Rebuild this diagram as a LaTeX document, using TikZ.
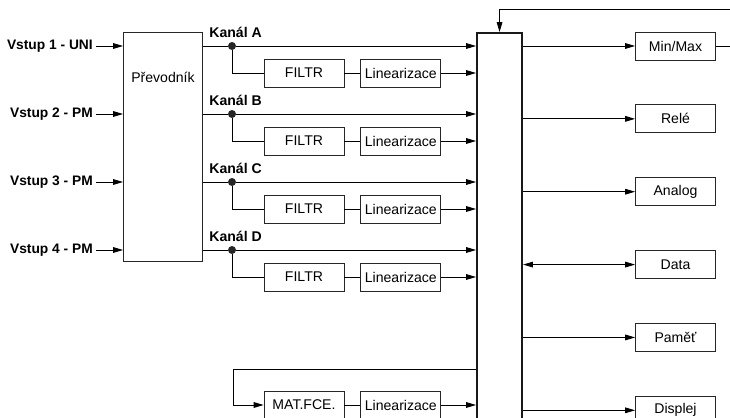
\documentclass[tikz,border=0pt]{standalone}
\usepackage{fontspec}
\setmainfont{Liberation Sans}
\usetikzlibrary{arrows.meta,positioning}

\begin{document}
\begin{tikzpicture}[
    x=0.025cm, y=-0.025cm,
    node distance=0.4cm,
    font=\fontsize{10}{12}\selectfont,
    line width=0.6pt,
    block/.style={draw=black!85, minimum width=2cm, minimum height=0.7cm, inner sep=1pt, align=center},
    inlabel/.style={anchor=east, font=\fontsize{9.8}{12}\selectfont\bfseries, inner sep=2pt},
    chlabel/.style={anchor=base west, font=\fontsize{10}{12}\selectfont\bfseries, inner sep=0pt},
    dot/.style={circle, fill=black!85, inner sep=0pt, minimum size=0.2cm},
    arrow/.style={-{Triangle[length=7pt,width=4pt]}},
    darrow/.style={{Triangle[length=7pt,width=4pt]}-{Triangle[length=7pt,width=4pt]}}
]
\useasboundingbox (0,0) rectangle (730,418);

% inputs and converter
\node[inlabel] (in1) at (96,46) {Vstup 1 - UNI};
\node[inlabel] (in2) at (96,114) {Vstup 2 - PM};
\node[inlabel] (in3) at (96,182) {Vstup 3 - PM};
\node[inlabel] (in4) at (96,250) {Vstup 4 - PM};
\node[block, minimum width=1.975cm, minimum height=5.725cm, anchor=north west] (prev) at (123,32) {};
\node[below=0.87cm of prev.north] (prevtxt) {Převodník};
\draw[arrow] (in1.east) -- (in1.east -| prev.west);
\draw[arrow] (in2.east) -- (in2.east -| prev.west);
\draw[arrow] (in3.east) -- (in3.east -| prev.west);
\draw[arrow] (in4.east) -- (in4.east -| prev.west);

% central unit
\node[draw=black!90, line width=1.5pt, minimum width=1.125cm, minimum height=10cm, inner sep=0pt, anchor=north west] (bus) at (476,32) {};

% channel A
\node[dot] (dA) at (232,46) {};
\node[chlabel] (kA) at (209,38) {Kanál A};
\node[block] (fA) at (304,73) {FILTR};
\node[block, right=of fA] (lA) {Linearizace};
\draw (prev.east |- dA) -- (dA);
\draw[arrow] (dA) -- (bus.west |- dA);
\draw (dA) |- (fA.west);
\draw (fA) -- (lA);
\draw[arrow] (lA) -- (bus.west |- lA);

% channel B
\node[dot] (dB) at (232,114) {};
\node[chlabel] (kB) at (209,106) {Kanál B};
\node[block] (fB) at (304,141) {FILTR};
\node[block, right=of fB] (lB) {Linearizace};
\draw (prev.east |- dB) -- (dB);
\draw[arrow] (dB) -- (bus.west |- dB);
\draw (dB) |- (fB.west);
\draw (fB) -- (lB);
\draw[arrow] (lB) -- (bus.west |- lB);

% channel C
\node[dot] (dC) at (232,182) {};
\node[chlabel] (kC) at (209,174) {Kanál C};
\node[block] (fC) at (304,209) {FILTR};
\node[block, right=of fC] (lC) {Linearizace};
\draw (prev.east |- dC) -- (dC);
\draw[arrow] (dC) -- (bus.west |- dC);
\draw (dC) |- (fC.west);
\draw (fC) -- (lC);
\draw[arrow] (lC) -- (bus.west |- lC);

% channel D
\node[dot] (dD) at (232,250) {};
\node[chlabel] (kD) at (209,242) {Kanál D};
\node[block] (fD) at (304,277) {FILTR};
\node[block, right=of fD] (lD) {Linearizace};
\draw (prev.east |- dD) -- (dD);
\draw[arrow] (dD) -- (bus.west |- dD);
\draw (dD) |- (fD.west);
\draw (fD) -- (lD);
\draw[arrow] (lD) -- (bus.west |- lD);

% math functions
\node[block] (mat) at (304,405) {MAT.FCE.};
\node[block, right=of mat] (lE) {Linearizace};
\coordinate (matturn) at (233,369);
\draw[arrow] (bus.west |- matturn) -- (matturn) |- (mat.west);
\draw (mat) -- (lE);
\draw[arrow] (lE) -- (bus.west |- lE);

% outputs
\node[block] (mm) at (675.5,46) {Min/Max};
\node[block, below=1.1cm of mm] (rel) {Relé};
\node[block, below=1.1cm of rel] (ana) {Analog};
\node[block, below=1.1cm of ana] (dat) {Data};
\node[block, below=1.1cm of dat] (mem) {Paměť};
\node[block, below=1.1cm of mem] (disp) {Displej};
\draw[arrow] (bus.east |- mm) -- (mm);
\draw[arrow] (bus.east |- rel) -- (rel);
\draw[arrow] (bus.east |- ana) -- (ana);
\draw[darrow] (bus.east |- dat) -- (dat);
\draw[arrow] (bus.east |- mem) -- (mem);
\draw[arrow] (bus.east |- disp) -- (disp);

% feedback
\coordinate (mmout) at (730,46);
\coordinate (fbin) at (730,9);
\draw (mm) -- (mmout);
\draw[arrow] (fbin) -| (bus.north);
\end{tikzpicture}
\end{document}
